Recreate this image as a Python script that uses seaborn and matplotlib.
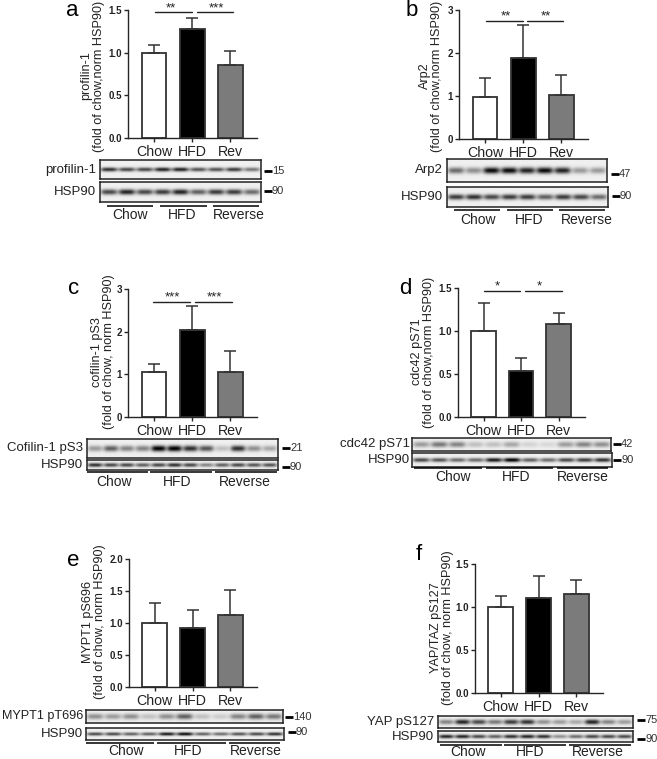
import numpy as np
import pandas as pd
import seaborn as sns
import matplotlib
matplotlib.use('Agg')
import matplotlib.pyplot as plt

W, H = 657, 759

categories = ['Chow', 'HFD', 'Rev']
bar_colors = {'Chow': 'white', 'HFD': 'black', 'Rev': '#7b7b7b'}

# bar heights and top of the error bars
profilin_mean = [1.00, 1.28, 0.86]
profilin_top = [1.09, 1.41, 1.02]
arp2_mean = [0.98, 1.89, 1.03]
arp2_top = [1.43, 2.64, 1.48]
cofilin_mean = [1.05, 2.05, 1.05]
cofilin_top = [1.24, 2.59, 1.54]
cdc42_mean = [1.00, 0.53, 1.08]
cdc42_top = [1.33, 0.69, 1.21]
mypt1_mean = [1.00, 0.92, 1.12]
mypt1_top = [1.32, 1.20, 1.52]
yap_mean = [1.00, 1.11, 1.15]
yap_top = [1.13, 1.36, 1.31]

# lane darkness in the blots, estimated by eye
profilin_blot = [.8, .7, .7, .85, .85, .65, .65, .75, .5]
profilin_hsp = [.7, .85, .7, .75, .85, .6, .75, .75, .55]
arp2_blot = [.55, .4, .95, .95, .85, .95, .85, .35, .35]
arp2_hsp = [.75, .8, .7, .75, .75, .6, .75, .7, .55]
cofilin_blot = [.35, .6, .45, .45, 1, 1, .8, .65, .2, .8, .4, .3]
cofilin_hsp = [.8, .7, .7, .6, .7, .8, .7, .45, .6, .7, .65, .65]
cdc42_blot = [.35, .5, .45, .2, .2, .3, .12, .1, .35, .45, .4]
cdc42_hsp = [.7, .65, .55, .55, .9, 1, .6, .55, .7, .75, .8]
mypt1_blot = [.4, .35, .4, .2, .4, .6, .2, .15, .45, .6, .5]
mypt1_hsp = [.7, .7, .6, .6, .9, .95, .6, .55, .65, .7, .8]
yap_blot = [.45, .85, .7, .5, .75, .8, .4, .35, .3, .85, .45, .35]
yap_hsp = [.85, .85, .7, .6, .8, .85, .8, .4, .55, .7, .7, .7]

sns.set_theme(style='ticks')
plt.rcParams['font.family'] = ['Liberation Sans', 'DejaVu Sans']
plt.rcParams['axes.linewidth'] = 1.0

fig = plt.figure(figsize=(W / 100, H / 100), dpi=100, facecolor='white')

# overlay in pixel coords for letters, blot labels and so on
page = fig.add_axes([0, 0, 1, 1], zorder=10)
page.set_xlim(0, W)
page.set_ylim(H, 0)
page.axis('off')
page.patch.set_alpha(0)


def px_axes(left, top, right, bottom):
    return fig.add_axes([left / W, 1 - bottom / H, (right - left) / W, (bottom - top) / H])


def plot_bars(box, mean, top, ylim, ticks, fmt, ylabel, label_pos):
    ax = px_axes(*box)
    df = pd.DataFrame({'group': categories, 'value': mean, 'top': top})
    sns.barplot(data=df, x='group', y='value', hue='group', palette=bar_colors, legend=False,
                width=0.65, edgecolor='#333333', linewidth=1.3, ax=ax)
    err = df['top'] - df['value']
    ax.errorbar(range(3), df['value'], yerr=[np.zeros(3), err], fmt='none', ecolor='#333333',
                elinewidth=1.1, capsize=4.2, capthick=1.1, zorder=1)
    ax.set_xlim(-0.68, 2.7)
    ax.set_ylim(*ylim)
    ax.set_yticks(ticks)
    ax.set_yticklabels([fmt % t for t in ticks], fontsize=7, fontweight='bold', color='#222222')
    ax.tick_params(axis='y', length=3, width=1, pad=1.5)
    ax.tick_params(axis='x', length=3, width=1, pad=2, labelsize=10.2, labelcolor='#222222')
    ax.set_xlabel('')
    ax.set_ylabel(ylabel, fontsize=9.1, color='#222222', linespacing=1.05)
    ax.yaxis.set_label_coords(label_pos[0], label_pos[1], transform=page.transData)
    sns.despine(ax=ax)
    ax.patch.set_alpha(0)
    return ax


def plot_blot(box, lanes, sigma, label, size, size_x, size_y, pad=4, fontsize=9.5):
    ax = px_axes(*box)
    n = len(lanes)
    xx, yy = np.meshgrid(np.linspace(0, n, 400), np.linspace(-1, 1, 60))
    img = np.full(xx.shape, 0.06)
    for i, d in enumerate(lanes):
        band = np.exp(-((xx - i - 0.5) / 0.46) ** 4) * np.exp(-(yy / sigma) ** 2)
        img += d * 0.95 * band
    ax.imshow(img, cmap='gray_r', vmin=0, vmax=1, aspect='auto', interpolation='bilinear',
              extent=[0, n, -1, 1])
    ax.set_xticks([])
    ax.set_yticks([])
    for s in ax.spines.values():
        s.set_linewidth(1.1)
        s.set_color('#222222')
    page.text(box[0] - pad, (box[1] + box[3]) / 2, label, ha='right', va='center',
              fontsize=fontsize, color='#222222')
    page.plot([size_x, size_x + 8], [size_y, size_y], color='black', lw=2, solid_capstyle='butt')
    page.text(size_x + 8, size_y, size, ha='left', va='center', fontsize=8, color='#333333')


def plot_groups(y, spans, label_y, centers):
    for (x0, x1), cx, name in zip(spans, centers, ['Chow', 'HFD', 'Reverse']):
        page.plot([x0, x1], [y, y], color='black', lw=1.1, solid_capstyle='butt')
        page.text(cx, label_y, name, ha='center', va='center', fontsize=10, color='#222222')


def plot_sig(y, spans, stars, star_y, star_x):
    for (x0, x1), s, sx in zip(spans, stars, star_x):
        page.plot([x0, x1], [y, y], color='#222222', lw=1)
        page.text(sx, star_y, s, ha='center', va='center', fontsize=9.5, color='#222222')


def letter(x, y, s):
    page.text(x, y, s, ha='center', va='center', fontsize=16, color='black')


# a
plot_bars((128, 10, 257, 138), profilin_mean, profilin_top, (0, 1.5), [0, .5, 1, 1.5], '%.1f',
          'profilin-1\n(fold of chow,norm HSP90)', (105, 76))
plot_blot((100, 160, 261, 179), profilin_blot, 0.22, 'profilin-1', '15', 264, 171)
plot_blot((100, 182, 261, 202), profilin_hsp, 0.28, 'HSP90', '90', 264, 191)
plot_groups(206, [(107, 153), (160, 207), (213, 259)], 215, [130, 182, 239])
plot_sig(12, [(155, 192), (197, 233)], ['**', '***'], 8, [171, 216])
letter(72, 10, 'a')

# b
plot_bars((459, 10, 588, 139), arp2_mean, arp2_top, (0, 3), [0, 1, 2, 3], '%d',
          'Arp2\n(fold of chow,norm HSP90)', (443, 76))
plot_blot((447, 159, 607, 182), arp2_blot, 0.28, 'Arp2', '47', 611, 174)
plot_blot((447, 187, 608, 207), arp2_hsp, 0.28, 'HSP90', '90', 612, 196)
plot_groups(210, [(454, 500), (507, 553), (559, 605)], 220, [478, 529, 587])
plot_sig(21, [(486, 523), (527, 563)], ['**', '**'], 16, [506, 546])
letter(412, 10, 'b')

# c
plot_bars((128, 289, 257, 417), cofilin_mean, cofilin_top, (0, 3), [0, 1, 2, 3], '%d',
          'cofilin-1 pS3\n(fold of chow, norm HSP90)', (115, 352))
plot_blot((87, 439, 278, 458), cofilin_blot, 0.32, 'Cofilin-1 pS3', '21', 282, 448)
plot_blot((87, 460, 278, 470), cofilin_hsp, 0.4, 'HSP90', '90', 282, 467)
plot_groups(472, [(87, 148), (150, 212), (215, 277)], 482, [114, 177, 245])
plot_sig(302, [(153, 190), (195, 232)], ['***', '***'], 297, [172, 214])
letter(74, 288, 'c')

# d
plot_bars((458, 288, 585, 417), cdc42_mean, cdc42_top, (0, 1.5), [0, .5, 1, 1.5], '%.1f',
          'cdc42 pS71\n(fold of chow,norm HSP90)', (435, 352))
plot_blot((412, 438, 611, 451), cdc42_blot, 0.45, 'cdc42 pS71', '42', 613, 444, pad=2)
plot_blot((412, 453, 612, 467), cdc42_hsp, 0.3, 'HSP90', '90', 613, 460, pad=2)
plot_groups(468, [(414, 482), (486, 553), (557, 608)], 477, [453, 516, 583])
plot_sig(291, [(484, 520), (525, 562)], ['*', '*'], 286, [497, 539])
letter(405, 288, 'd')

# e
plot_bars((129, 559, 257, 687), mypt1_mean, mypt1_top, (0, 2), [0, .5, 1, 1.5, 2], '%.1f',
          'MYPT1 pS696\n(fold of chow, norm HSP90)', (106, 622))
plot_blot((86, 710, 283, 723), mypt1_blot, 0.45, 'MYPT1 pT696', '140', 285, 717, pad=3, fontsize=9.1)
plot_blot((86, 728, 284, 740), mypt1_hsp, 0.28, 'HSP90', '90', 288, 732, pad=3)
plot_groups(743, [(86, 154), (157, 226), (229, 280)], 751, [126, 188, 256])
letter(73, 560, 'e')

# f
plot_bars((475, 564, 603, 693), yap_mean, yap_top, (0, 1.5), [0, .5, 1, 1.5], '%.1f',
          'YAP/TAZ pS127\n(fold of chow, norm HSP90)', (454, 628))
plot_blot((438, 716, 633, 728), yap_blot, 0.42, 'YAP pS127', '75', 637, 720)
plot_blot((438, 731, 633, 742), yap_hsp, 0.35, 'HSP90', '90', 637, 739)
plot_groups(745, [(440, 502), (504, 566), (569, 631)], 752, [468, 530, 598])
letter(419, 555, 'f')

fig.savefig('out.png', dpi=100)
